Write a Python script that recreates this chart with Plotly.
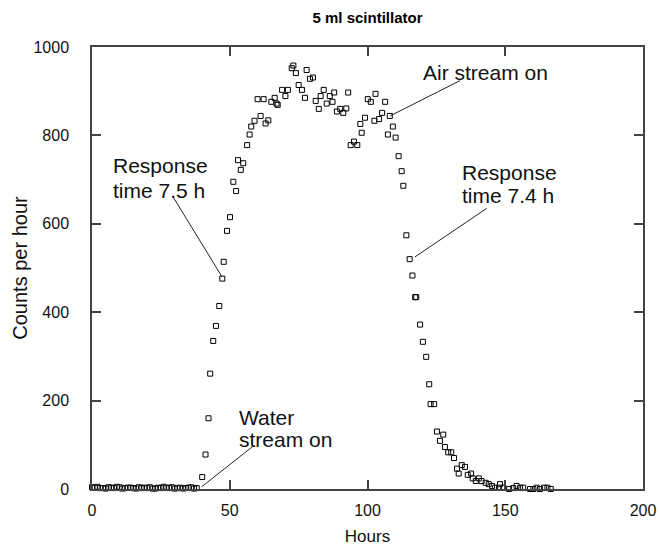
import plotly.graph_objects as go

# Baseline (hours 0-38), then rise, plateau and decay
base_hours = list(range(0, 39))
base_counts = [4, 3, 5, 2, 2, 1, 4, 3, 2, 5, 4, 1, 2, 3, 3, 2, 1, 4, 2, 3,
               2, 4, 1, 1, 3, 2, 5, 3, 2, 4, 1, 2, 3, 1, 2, 3, 4, 1, 2]

main_hours = [40.0, 41.2, 42.3, 42.9, 44.0, 45.0, 46.2, 47.3, 47.8, 49.0,
              50.1, 51.3, 52.3, 53.0, 54.0, 54.9, 56.3, 57.2, 57.8, 59.0,
              60.1, 61.2, 62.3, 63.0, 64.0, 65.1, 66.3, 67.0, 67.4, 69.0,
              70.2, 71.1, 72.5, 73.1, 74.0, 75.0, 76.2, 77.3, 77.9, 79.1,
              80.2, 81.2, 82.3, 83.0, 84.1, 85.2, 86.3, 87.3, 87.9, 88.9,
              90.1, 91.2, 92.3, 93.0, 93.9, 95.1, 96.3, 97.4, 97.9, 99.1,
              100.1, 101.2, 102.5, 102.9, 104.2, 105.3, 106.4, 107.4, 108.1, 109.2,
              110.2, 111.3, 112.4, 113.0, 114.1, 115.3, 116.3, 117.3, 117.7, 119.1,
              120.1, 121.3, 122.4, 122.9, 124.2, 125.2, 126.3, 127.5, 128.1, 129.3,
              130.4, 131.4, 132.5, 133.1, 134.2, 135.4, 136.4, 137.6, 138.2, 139.3,
              140.4, 141.4, 142.9, 144.0, 145.2, 146.3, 147.7, 148.1, 149.3, 151.4,
              152.9, 154.1, 155.4, 156.5, 159.0, 160.2, 161.4, 162.6, 164.1, 165.3,
              166.5]
main_counts = [27, 78, 160, 261, 335, 369, 414, 476, 514, 584,
               615, 695, 674, 744, 722, 737, 778, 802, 820, 833,
               882, 844, 882, 827, 834, 876, 885, 872, 869, 903,
               889, 903, 952, 958, 941, 914, 903, 885, 948, 928,
               931, 878, 860, 889, 903, 872, 889, 876, 897, 854,
               860, 851, 861, 897, 778, 786, 778, 826, 806, 840,
               882, 876, 833, 894, 837, 851, 876, 802, 844, 820,
               795, 753, 719, 686, 574, 520, 483, 434, 434, 372,
               333, 299, 237, 192, 192, 130, 109, 123, 95, 83,
               83, 70, 46, 35, 54, 50, 32, 35, 24, 18,
               24, 18, 14, 11, 7, 3, 3, 11, 3, 0,
               2, 7, 3, 3, 0, 0, 3, 0, 3, 3,
               0]

hours = base_hours + main_hours
counts = base_counts + main_counts

x_ticks = [0, 50, 100, 150, 200]
y_ticks = [0, 200, 400, 600, 800, 1000]

# annotation text lines (left-anchored) and leader lines (from, to) in data units
note_lines = ["Response", "time 7.5 h", "Water", "stream on", "Air stream on", "Response", "time 7.4 h"]
note_x = [6.9, 6.9, 52.6, 52.6, 119.4, 133.6, 133.6]
note_y = [733, 676, 161, 111, 943, 717, 665]
leader_from = [(29.4, 661), (58.3, 96), (133.6, 924), (143.3, 635)]
leader_to = [(47.2, 480), (39.8, 5), (108.2, 844), (117.2, 525)]

FONT = "Liberation Sans, Arial, sans-serif"

fig = go.Figure()
fig.add_trace(go.Scatter(
    x=hours, y=counts, mode="markers",
    marker=dict(symbol="square-open", size=5, color="black", line=dict(width=1, color="black")),
    cliponaxis=False, showlegend=False,
))

for (x0, y0), (x1, y1) in zip(leader_from, leader_to):
    fig.add_shape(type="line", x0=x0, y0=y0, x1=x1, y1=y1, xref="x", yref="y",
                  line=dict(color="#222222", width=1))

for txt, xp, yp in zip(note_lines, note_x, note_y):
    fig.add_annotation(x=xp, y=yp, xref="x", yref="y", text=txt, showarrow=False,
                       xanchor="left", yanchor="middle", align="left",
                       font=dict(family=FONT, size=21, color="#111111"))

axis_common = dict(showgrid=False, zeroline=False, showline=True, linecolor="#444444", linewidth=1.5,
                   mirror="ticks", ticks="inside", ticklen=9, tickwidth=1.5, tickcolor="#444444",
                   automargin=False,
                   tickfont=dict(family=FONT, size=16, color="#111111"))

fig.update_layout(
    width=660, height=550,
    margin=dict(l=92, r=17, t=47, b=61),
    paper_bgcolor="white", plot_bgcolor="white",
    title=dict(text="<b>5 ml scintillator</b>", x=0.5, xref="paper", y=1 - 18 / 550, yref="container",
               xanchor="center", yanchor="middle", automargin=False,
               font=dict(family=FONT, size=15, color="black")),
    xaxis=dict(range=[0, 200], tickvals=x_ticks, ticklabelstandoff=6,
               title=dict(text="Hours", standoff=12, font=dict(family=FONT, size=17, color="#111111")),
               **axis_common),
    yaxis=dict(range=[0, 1000], tickvals=y_ticks, ticklabelstandoff=18,
               title=dict(text="Counts per hour", standoff=0, font=dict(family=FONT, size=20, color="#111111")),
               **axis_common),
)

fig.write_html("out.html", config={"displayModeBar": False},
               post_script="document.body.style.margin='0';")
